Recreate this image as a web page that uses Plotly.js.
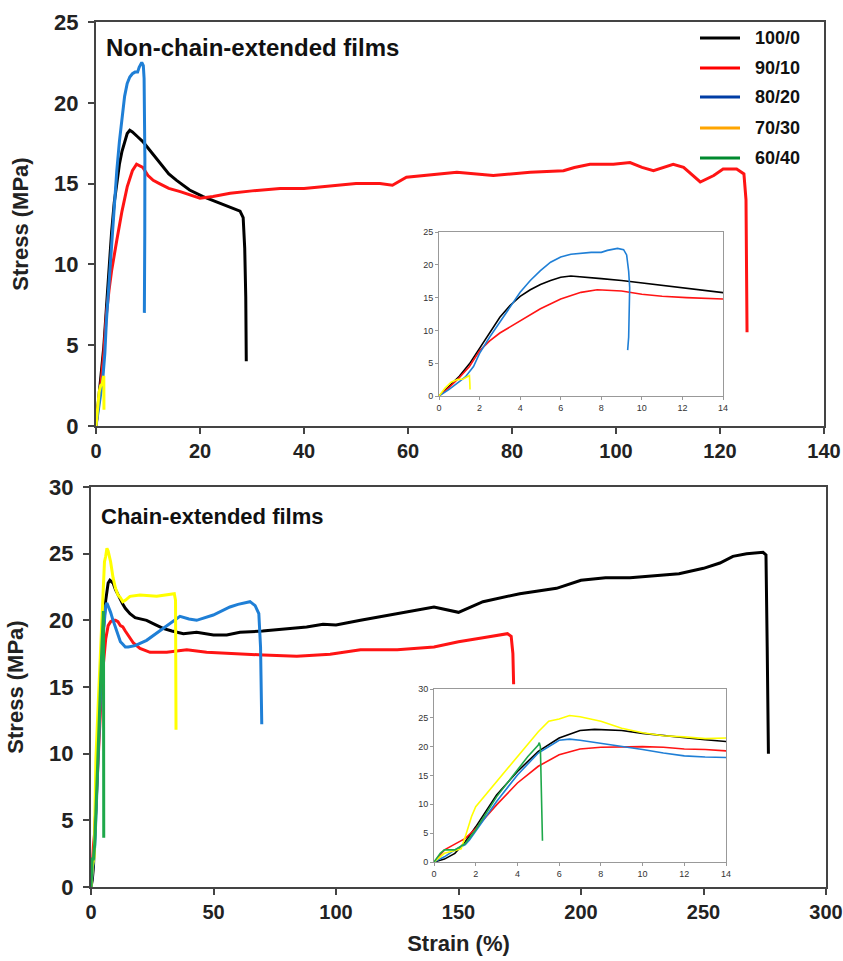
<!DOCTYPE html>
<html>
<head>
<meta charset="utf-8">
<script src="https://cdn.plot.ly/plotly-3.0.1.min.js"></script>
<style>html,body{margin:0;padding:0;background:#fff;}#chart{width:843px;height:961px;}</style>
</head>
<body>
<div id="chart"></div>
<script>
// ---- Data: Non-chain-extended films (top panel) ----
const seriesNames = ["100/0", "90/10", "80/20", "70/30", "60/40"];

const nc100_x = [0, 0.5, 1, 1.5, 2, 2.5, 3, 3.5, 4, 4.5, 5, 5.5, 6, 6.5, 7, 8, 9, 10, 11, 12, 13, 14, 15.5, 18, 20.6, 23, 25.1, 27, 27.7, 28.3, 28.6, 28.8, 28.9];
const nc100_y = [0, 1.5, 3.0, 4.9, 7.3, 9.8, 12.0, 13.8, 15.2, 16.2, 17.0, 17.6, 18.1, 18.3, 18.2, 17.9, 17.6, 17.2, 16.8, 16.4, 16.0, 15.6, 15.2, 14.6, 14.2, 13.9, 13.6, 13.4, 13.3, 12.9, 11.0, 8.0, 4.0];

const nc90_x = [0, 0.5, 1, 1.5, 2, 2.5, 3, 4, 5, 6, 7, 7.8, 9, 10, 11, 12.2, 14, 16.2, 18, 20, 22.5, 25.8, 30, 35.4, 40, 45, 50, 54.6, 57, 59.7, 64, 69.4, 76.4, 83.5, 89.9, 92, 95, 99.5, 102.7, 105, 107.2, 111, 113, 116.2, 118.8, 120.6, 123.2, 124.6, 125, 125.1, 125.2];
const nc90_y = [0, 1.3, 2.8, 4.5, 6.9, 8.4, 9.6, 11.5, 13.3, 14.8, 15.8, 16.2, 16.0, 15.5, 15.2, 15.0, 14.7, 14.5, 14.3, 14.1, 14.2, 14.4, 14.55, 14.7, 14.7, 14.85, 15.0, 15.0, 14.9, 15.4, 15.55, 15.7, 15.5, 15.7, 15.8, 16.0, 16.2, 16.2, 16.3, 16.0, 15.8, 16.2, 16.0, 15.1, 15.5, 15.9, 15.9, 15.6, 14.0, 9.0, 5.8];

const nc80_x = [0, 0.5, 1, 1.3, 1.7, 2, 2.5, 3, 3.5, 4, 4.5, 5, 5.5, 6, 6.5, 7, 7.5, 8, 8.3, 8.8, 9.1, 9.25, 9.35, 9.4, 9.38, 9.35, 9.3];
const nc80_y = [0, 1.0, 2.2, 2.9, 4.5, 6.5, 9.0, 11.3, 13.7, 15.8, 17.6, 19.1, 20.4, 21.2, 21.6, 21.8, 21.9, 21.9, 22.2, 22.5, 22.3, 21.5, 19.0, 16.5, 12.0, 9.0, 7.0];

const nc70_x = [0, 0.3, 0.6, 0.9, 1.2, 1.4, 1.5, 1.52, 1.53];
const nc70_y = [0, 1.2, 2.1, 2.5, 2.6, 3.0, 3.1, 2.0, 1.0];

// ---- Data: Chain-extended films (bottom panel) ----
const ce100_x = [0, 0.5, 1, 1.5, 2, 3, 4, 5, 6, 7, 7.7, 9, 10, 11, 12, 13, 14, 15.9, 18, 22.7, 26, 29.4, 33, 37.7, 43.1, 50, 55.4, 60.8, 70, 77.1, 88, 94.7, 100, 110, 125, 140, 150, 160, 175, 190, 200, 210, 220, 235, 240, 250, 256.7, 262, 267.6, 274.3, 275.5, 276, 276.3, 276.5];
const ce100_y = [0, 0.5, 1.5, 3.5, 6.1, 11.6, 15.7, 19.2, 21.5, 22.8, 23.0, 22.8, 22.3, 21.9, 21.6, 21.2, 20.9, 20.5, 20.2, 20.0, 19.7, 19.4, 19.2, 19.0, 19.1, 18.9, 18.9, 19.1, 19.2, 19.3, 19.5, 19.7, 19.65, 20.0, 20.5, 21.0, 20.6, 21.4, 22.0, 22.4, 23.0, 23.2, 23.2, 23.4, 23.5, 23.9, 24.3, 24.8, 25.0, 25.1, 24.9, 18.0, 14.0, 10.0];

const ce90_x = [0, 0.5, 1, 1.5, 2, 3, 4, 5, 6, 7, 8, 9, 10, 11, 12, 13, 14, 17.3, 20, 24.1, 30.9, 39.1, 47.2, 56.7, 70.3, 84, 97.6, 110, 125, 140, 150, 160, 170, 171.5, 172.2, 172.5];
const ce90_y = [0, 2.1, 3.1, 4.1, 5.8, 9.9, 13.7, 16.6, 18.6, 19.6, 19.9, 20.0, 20.0, 19.9, 19.6, 19.5, 19.2, 18.3, 17.9, 17.6, 17.6, 17.8, 17.6, 17.5, 17.4, 17.3, 17.45, 17.8, 17.8, 18.0, 18.4, 18.7, 19.0, 18.8, 17.5, 15.2];

const ce80_x = [0, 0.5, 1, 1.5, 1.7, 2, 3, 4, 5, 6, 6.5, 7, 8, 9, 10, 11, 12, 13, 14, 15.2, 18, 22.7, 29.5, 36.3, 40, 43.1, 49.9, 56.7, 60, 64.9, 67, 68.5, 69.2, 69.5, 69.7];
const ce80_y = [0, 0.9, 2.1, 3.0, 3.8, 5.3, 10.5, 15.1, 18.9, 21.1, 21.3, 21.1, 20.6, 20.0, 19.5, 18.9, 18.4, 18.2, 18.0, 18.0, 18.1, 18.5, 19.4, 20.3, 20.1, 20.0, 20.4, 21.0, 21.2, 21.4, 21.1, 20.5, 18.0, 15.0, 12.2];

const ce70_x = [0, 0.5, 1, 1.3, 1.5, 1.8, 2, 3, 4, 5, 5.5, 6, 6.5, 7, 8, 9, 10, 11, 12, 13, 14, 15.9, 20, 26.8, 30.9, 34, 34.5, 34.7];
const ce70_y = [0, 1.5, 2.0, 2.3, 4.4, 7.9, 9.6, 14.0, 18.3, 22.6, 24.4, 24.8, 25.4, 25.2, 24.4, 23.2, 22.4, 21.9, 21.7, 21.4, 21.5, 21.8, 21.9, 21.8, 21.9, 22.0, 21.5, 11.8];

const ce60_x = [0, 0.3, 0.5, 1, 1.5, 2, 3, 4, 4.5, 5, 5.05, 5.1, 5.15, 5.2];
const ce60_y = [0, 1.5, 2.1, 2.1, 3.2, 5.6, 11.3, 16.0, 18.3, 20.3, 20.7, 20.0, 12.0, 3.7];

// tick values
const topXTicks = [0, 20, 40, 60, 80, 100, 120, 140];
const topYTicks = [0, 5, 10, 15, 20, 25];
const botXTicks = [0, 50, 100, 150, 200, 250, 300];
const botYTicks = [0, 5, 10, 15, 20, 25, 30];
const insetXTicks = [0, 2, 4, 6, 8, 10, 12, 14];

// ---- styling ----
const curveColors = {"100/0": "#000000", "90/10": "#ff1414", "80/20": "#1f7fd6", "70/30": "#ffff00", "60/40": "#1ea84a"};
const legendColors = ["#000000", "#ff0000", "#003da5", "#ffa500", "#008a2e"];

const W = 843, H = 961;
const px = v => v / W;
const py = v => 1 - v / H;

function tr(x, y, name, xa, ya, w) {
  return {x: x, y: y, type: "scatter", mode: "lines", name: name, showlegend: false,
    xaxis: xa, yaxis: ya, hoverinfo: "skip",
    line: {color: curveColors[name], width: w}};
}

const traces = [];
// top main
traces.push(tr(nc100_x, nc100_y, "100/0", "x", "y", 3));
traces.push(tr(nc90_x, nc90_y, "90/10", "x", "y", 3));
traces.push(tr(nc80_x, nc80_y, "80/20", "x", "y", 3));
traces.push(tr(nc70_x, nc70_y, "70/30", "x", "y", 3));
// top inset
traces.push(tr(nc100_x, nc100_y, "100/0", "x3", "y3", 1.6));
traces.push(tr(nc90_x, nc90_y, "90/10", "x3", "y3", 1.6));
traces.push(tr(nc80_x, nc80_y, "80/20", "x3", "y3", 1.6));
traces.push(tr(nc70_x, nc70_y, "70/30", "x3", "y3", 1.6));
// bottom main
traces.push(tr(ce100_x, ce100_y, "100/0", "x2", "y2", 3));
traces.push(tr(ce90_x, ce90_y, "90/10", "x2", "y2", 3));
traces.push(tr(ce80_x, ce80_y, "80/20", "x2", "y2", 3));
traces.push(tr(ce70_x, ce70_y, "70/30", "x2", "y2", 3));
traces.push(tr(ce60_x, ce60_y, "60/40", "x2", "y2", 3));
// bottom inset
traces.push(tr(ce100_x, ce100_y, "100/0", "x4", "y4", 1.6));
traces.push(tr(ce90_x, ce90_y, "90/10", "x4", "y4", 1.6));
traces.push(tr(ce80_x, ce80_y, "80/20", "x4", "y4", 1.6));
traces.push(tr(ce70_x, ce70_y, "70/30", "x4", "y4", 1.6));
traces.push(tr(ce60_x, ce60_y, "60/40", "x4", "y4", 1.6));

const FONT = "Liberation Sans, Arial, sans-serif";
const xTickFont = {family: FONT, size: 20, color: "#222", weight: "bold"};
const yTickFont = {family: FONT, size: 22, color: "#222", weight: "bold"};
const insetTickFont = {family: FONT, size: 9, color: "#333"};

function mainAxis(dom, range, ticks, anchor, extra) {
  return Object.assign({domain: dom, range: range, tickvals: ticks, ticktext: ticks.map(String),
    anchor: anchor, showline: true, mirror: true, linecolor: "#444", linewidth: 2,
    ticks: "outside", ticklen: 6, tickwidth: 2, tickcolor: "#444",
    showgrid: false, zeroline: false, fixedrange: true}, extra || {});
}
function insetAxis(dom, range, ticks, anchor) {
  return {domain: dom, range: range, tickvals: ticks, ticktext: ticks.map(String),
    anchor: anchor, showline: true, mirror: true, linecolor: "#999", linewidth: 1,
    ticks: "outside", ticklen: 3, tickwidth: 1, tickcolor: "#999",
    showgrid: false, zeroline: false, tickfont: insetTickFont, fixedrange: true};
}

const titleFont = {family: FONT, size: 22, color: "#222", weight: "bold"};

const layout = {
  width: W, height: H,
  margin: {l: 0, r: 0, t: 0, b: 0},
  paper_bgcolor: "#ffffff", plot_bgcolor: "#ffffff",
  showlegend: false,
  xaxis: mainAxis([px(96), px(824)], [0, 140], topXTicks, "y", {tickfont: xTickFont}),
  yaxis: mainAxis([py(426), py(22)], [0, 25], topYTicks, "x",
    {tickfont: yTickFont, ticklabelstandoff: 5, title: {text: "Stress (MPa)", font: titleFont, standoff: 19}}),
  xaxis2: mainAxis([px(91), px(826)], [0, 300], botXTicks, "y2",
    {tickfont: xTickFont, title: {text: "Strain (%)", font: titleFont, standoff: 14}}),
  yaxis2: mainAxis([py(887), py(487)], [0, 30], botYTicks, "x2",
    {tickfont: yTickFont, ticklabelstandoff: 5, title: {text: "Stress (MPa)", font: titleFont, standoff: 19}}),
  xaxis3: insetAxis([px(439), px(723)], [0, 14], insetXTicks, "y3"),
  yaxis3: insetAxis([py(396), py(232)], [0, 25], topYTicks, "x3"),
  xaxis4: insetAxis([px(434), px(726)], [0, 14], insetXTicks, "y4"),
  yaxis4: insetAxis([py(862), py(689)], [0, 30], botYTicks, "x4"),
  annotations: [
    {xref: "paper", yref: "paper", x: px(104), y: py(47), xanchor: "left", yanchor: "middle",
      text: "Non-chain-extended films", showarrow: false, font: {family: FONT, size: 24, color: "#111", weight: "bold"}},
    {xref: "paper", yref: "paper", x: px(99), y: py(516), xanchor: "left", yanchor: "middle",
      text: "Chain-extended films", showarrow: false, font: {family: FONT, size: 22, color: "#111", weight: "bold"}}
  ],
  shapes: []
};

// manual legend in the top panel
const legY = [38, 68, 97, 128, 158];
seriesNames.forEach((n, i) => {
  layout.shapes.push({type: "line", xref: "paper", yref: "paper",
    x0: px(700), x1: px(740), y0: py(legY[i]), y1: py(legY[i]),
    line: {color: legendColors[i], width: 3}});
  layout.annotations.push({xref: "paper", yref: "paper", x: px(777), y: py(legY[i]),
    xanchor: "center", yanchor: "middle", text: n, showarrow: false,
    font: {family: FONT, size: 18, color: "#111", weight: "bold"}});
});

Plotly.newPlot("chart", traces, layout, {staticPlot: true, displayModeBar: false});
</script>
</body>
</html>
